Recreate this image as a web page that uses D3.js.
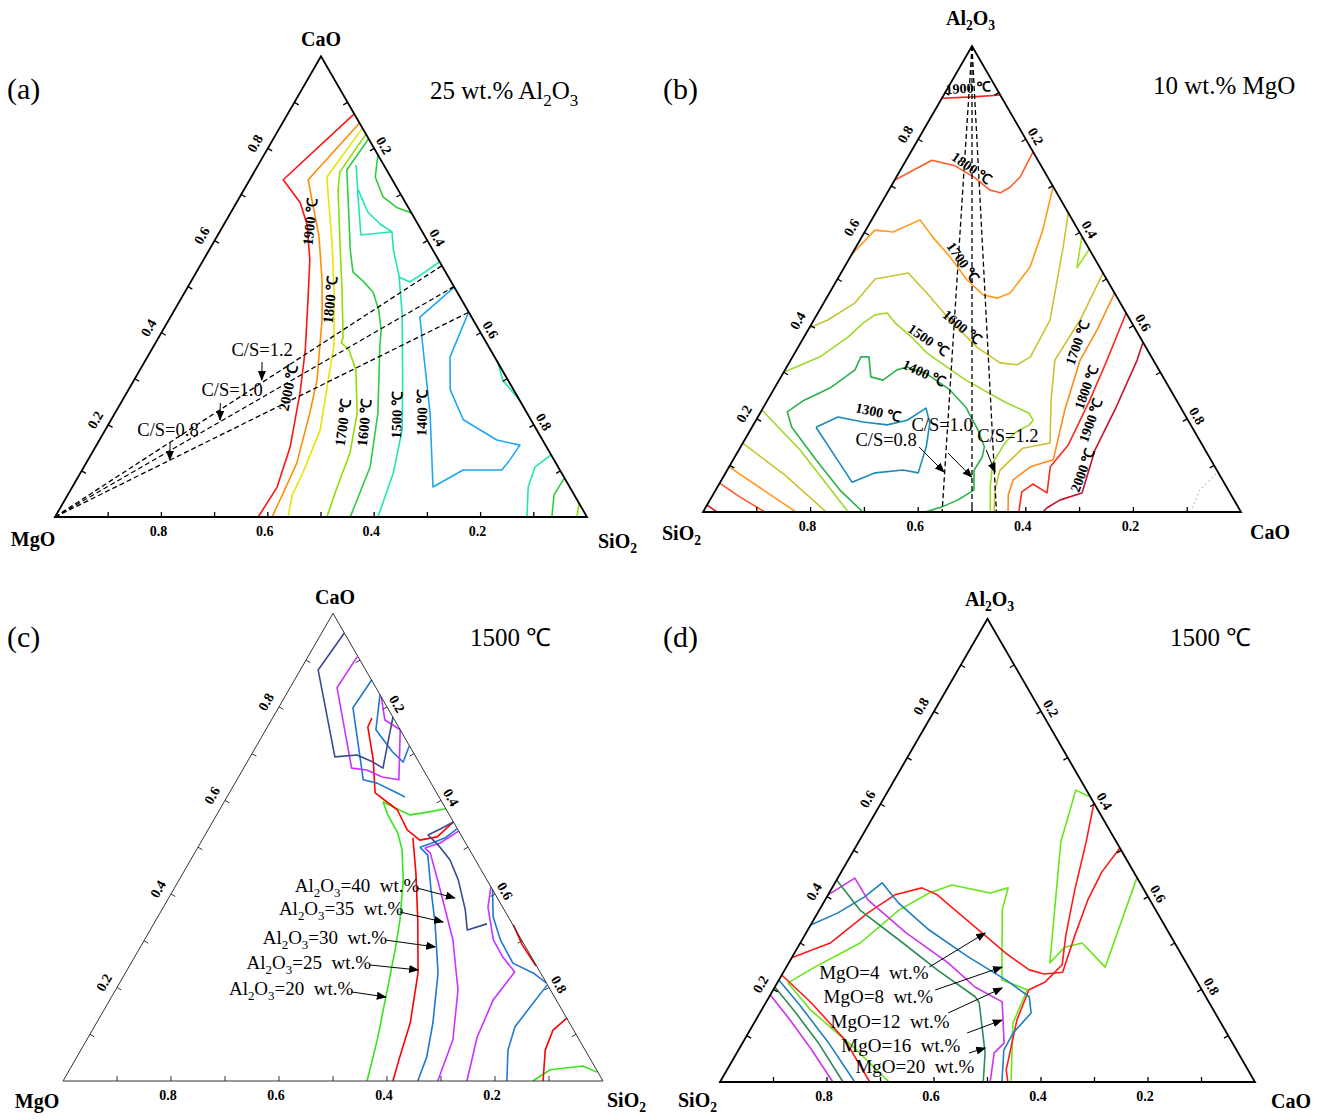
<!DOCTYPE html>
<html>
<head>
<meta charset="utf-8">
<script src="https://cdn.jsdelivr.net/npm/d3@7"></script>
<style>
	body { margin: 0; background: #fff; }
	svg text { font-family: "Times New Roman", "Liberation Serif", serif; fill: #000; }
</style>
</head>
<body>
<svg id="fig" width="1324" height="1119"></svg>
<script>
// every point is [top component, right component] as mass fraction

// (a) 25 wt.% Al2O3, points are [CaO, SiO2]
var a_2000 = [[0.875,0.125],[0.732,0.063],[0.682,0.120],[0.634,0.157],[0.558,0.200],[0.471,0.240],[0.363,0.289],[0.269,0.326],[0.152,0.366],[0.065,0.385],[0,0.382]];
var a_1900 = [[0.855,0.145],[0.732,0.110],[0.688,0.139],[0.612,0.190],[0.514,0.245],[0.428,0.288],[0.297,0.344],[0.226,0.366],[0.117,0.396],[0.052,0.403],[0,0.408]];
var a_1800 = [[0.844,0.156],[0.738,0.142],[0.699,0.164],[0.601,0.220],[0.493,0.278],[0.373,0.338],[0.297,0.365],[0.189,0.404],[0.096,0.418],[0.048,0.422],[0,0.438]];
var a_1700 = [[0.831,0.169],[0.749,0.161],[0.710,0.177],[0.601,0.235],[0.493,0.293],[0.389,0.347],[0.378,0.349],[0.363,0.371],[0.319,0.406],[0.226,0.455],[0.139,0.485],[0.065,0.498],[0,0.511]];
var a_1600 = [[0.821,0.179],[0.753,0.172],[0.688,0.207],[0.580,0.265],[0.532,0.294],[0.512,0.323],[0.488,0.354],[0.449,0.384],[0.406,0.410],[0.369,0.426],[0.226,0.494],[0.109,0.538],[0,0.555]];
var a_1600b = [[0.786,0.214],[0.738,0.233],[0.695,0.269],[0.671,0.308],[0.660,0.340]];
var a_1500 = [[0.764,0.184],[0.688,0.226],[0.612,0.269],[0.619,0.324],[0.580,0.346],[0.525,0.384],[0.443,0.431],[0.297,0.505],[0.189,0.558],[0.096,0.588],[0,0.607]];
var a_1500b = [[0.710,0.215],[0.662,0.257],[0.636,0.293],[0.619,0.324]];
var a_1500c = [[0.521,0.386],[0.510,0.412],[0.532,0.430],[0.554,0.446]];
var a_1500d = [[0.334,0.666],[0.297,0.693],[0.254,0.746]];
var a_1400 = [[0.499,0.501],[0.434,0.469],[0.369,0.507],[0.226,0.592],[0.065,0.678],[0.102,0.716],[0.102,0.789],[0.124,0.793],[0.156,0.796],[0.167,0.747],[0.211,0.662],[0.276,0.605],[0.347,0.569],[0.445,0.555]];
var a_1300 = [[0,0.887],[0.065,0.857],[0.109,0.848],[0.135,0.865]];
var a_1200 = [[0,0.934],[0.048,0.914],[0.085,0.915]];
var a_1100 = [[0,0.981],[0.030,0.970]];

// (b) 10 wt.% MgO, points are [Al2O3, CaO]
var b_1900 = [[0.888,0],[0.891,0.057],[0.895,0.105]];
var b_1800 = [[0.712,0],[0.755,0.048],[0.743,0.097],[0.717,0.147],[0.691,0.188],[0.685,0.210],[0.697,0.222],[0.719,0.230],[0.773,0.227]];
var b_1700 = [[0.552,0],[0.605,0.017],[0.601,0.053],[0.627,0.090],[0.590,0.132],[0.547,0.186],[0.498,0.242],[0.466,0.288],[0.459,0.317],[0.470,0.336],[0.526,0.345],[0.605,0.329],[0.697,0.302]];
var b_1600 = [[0.395,0],[0.412,0.026],[0.449,0.058],[0.500,0.070],[0.513,0.125],[0.470,0.181],[0.412,0.253],[0.354,0.332],[0.320,0.392],[0.316,0.426],[0.333,0.442],[0.412,0.439],[0.569,0.385],[0.642,0.358]];
var b_1500 = [[0.300,0],[0.333,0.051],[0.376,0.082],[0.406,0.095],[0.423,0.108],[0.427,0.129],[0.406,0.154],[0.376,0.199],[0.341,0.246],[0.283,0.347],[0.236,0.443],[0.212,0.500],[0.197,0.515],[0.187,0.513],[0.170,0.495],[0.148,0.487],[0.105,0.486],[0.054,0.507],[0,0.534]];
var b_1400 = [[0,0.297],[0.047,0.231],[0.112,0.154],[0.182,0.074],[0.215,0.049],[0.240,0.068],[0.266,0.103],[0.305,0.130],[0.333,0.127],[0.333,0.142],[0.290,0.167],[0.283,0.193],[0.305,0.208],[0.311,0.224],[0.298,0.265],[0.262,0.328],[0.225,0.376],[0.176,0.423],[0.140,0.453],[0.118,0.460],[0.090,0.459],[0.047,0.480],[0.026,0.461],[0.011,0.439],[0,0.413]];
var b_1300 = [[0.182,0.119],[0.204,0.149],[0.193,0.201],[0.187,0.249],[0.197,0.281],[0.223,0.303],[0.191,0.326],[0.140,0.345],[0.084,0.358],[0.090,0.327],[0.084,0.278],[0.064,0.245],[0.182,0.119]];
var b_s1900 = [[0.015,0],[0,0.026]];
var b_s1800 = [[0.062,0],[0.032,0.053],[0,0.115]];
var b_s1700 = [[0.097,0],[0.052,0.080],[0,0.173]];
var b_s1600 = [[0.148,0],[0.079,0.113],[0,0.229]];
var b_s1500 = [[0.219,0],[0.133,0.114],[0,0.270]];
var b_c1700 = [[0.513,0.487],[0.412,0.495],[0.326,0.491],[0.240,0.527],[0.148,0.571],[0.137,0.526],[0.090,0.507],[0.047,0.519],[0,0.541]];
var b_c1800 = [[0.470,0.530],[0.391,0.537],[0.326,0.538],[0.219,0.563],[0.112,0.595],[0.097,0.560],[0.069,0.542],[0.037,0.549],[0,0.567]];
var b_c1900 = [[0.427,0.573],[0.326,0.588],[0.240,0.599],[0.144,0.607],[0.097,0.597],[0.041,0.619],[0.060,0.583],[0.043,0.571],[0,0.587]];
var b_c2000 = [[0.363,0.636],[0.326,0.644],[0.219,0.656],[0.133,0.662],[0.041,0.684],[0.026,0.651],[0.009,0.635],[0,0.632]];
var b_c1500 = [[0.590,0.409],[0.524,0.433],[0.562,0.436]];
var b_dots = [[0.009,0.905],[0.047,0.900],[0.086,0.914]];

// (c) 1500 C, points are [CaO, SiO2]
var c_20 = [[0.597,0.294],[0.569,0.317],[0.530,0.355],[0.494,0.381],[0.430,0.415],[0.344,0.452],[0.280,0.475],[0.195,0.503],[0.088,0.538],[0,0.563]];
var c_20b = [[0.597,0.294],[0.584,0.323],[0.569,0.358],[0.575,0.388],[0.582,0.418]];
var c_20c = [[0,0.870],[0.024,0.890],[0.032,0.947],[0.019,0.979]];
var c_25 = [[0.520,0.388],[0.445,0.431],[0.344,0.485],[0.231,0.542],[0.124,0.581],[0.051,0.598],[0,0.611]];
var c_25b = [[0.776,0.184],[0.757,0.186],[0.687,0.231],[0.616,0.270],[0.580,0.329],[0.537,0.369],[0.515,0.403],[0.522,0.432],[0.554,0.446]];
var c_25c = [[0.334,0.667],[0.291,0.705],[0.246,0.753]];
var c_25d = [[0.135,0.866],[0.109,0.853],[0.066,0.860],[0,0.889]];
var c_30 = [[0.500,0.411],[0.483,0.434],[0.409,0.477],[0.338,0.520],[0.231,0.579],[0.124,0.623],[0.051,0.648],[0,0.657]];
var c_30b = [[0.500,0.411],[0.509,0.429],[0.520,0.448],[0.539,0.460]];
var c_30c = [[0.858,0.143],[0.798,0.138],[0.644,0.234],[0.637,0.263],[0.616,0.311],[0.607,0.330]];
var c_30d = [[0.826,0.174],[0.751,0.204],[0.704,0.258],[0.682,0.289],[0.716,0.283]];
var c_30e = [[0.409,0.591],[0.351,0.621],[0.302,0.659],[0.252,0.707],[0.231,0.755],[0.210,0.790]];
var c_30f = [[0.205,0.794],[0.158,0.786],[0.116,0.779],[0.066,0.791],[0,0.822]];
var c_35 = [[0.498,0.421],[0.488,0.436],[0.409,0.494],[0.302,0.571],[0.195,0.634],[0.088,0.678],[0,0.694]];
var c_35b = [[0.498,0.421],[0.509,0.444],[0.535,0.466]];
var c_35c = [[0.907,0.091],[0.841,0.087],[0.669,0.200],[0.665,0.230],[0.650,0.266],[0.644,0.300],[0.751,0.249]];
var c_35d = [[0.821,0.179],[0.772,0.210],[0.751,0.249]];
var c_35e = [[0.415,0.585],[0.372,0.601],[0.302,0.646],[0.265,0.682],[0.233,0.720],[0.173,0.710],[0.094,0.720],[0,0.748]];
var c_40 = [[0.958,0.042],[0.879,0.033],[0.693,0.157],[0.697,0.196],[0.682,0.233],[0.669,0.258],[0.714,0.243],[0.778,0.222]];
var c_40b = [[0.554,0.446],[0.539,0.429],[0.526,0.413],[0.505,0.442],[0.473,0.480],[0.430,0.517],[0.366,0.562],[0.323,0.587],[0.336,0.617]];

// (d) 1500 C, points are [Al2O3, CaO]
var d_4 = [[0,0.316],[0.076,0.211],[0.155,0.092],[0.214,0.020],[0.248,0.053],[0.300,0.112],[0.371,0.149],[0.408,0.187],[0.425,0.221],[0.408,0.301],[0.419,0.329],[0.371,0.342],[0.220,0.417],[0.199,0.475],[0.127,0.484],[0,0.544]];
var d_4b = [[0.615,0.385],[0.630,0.350],[0.518,0.378],[0.257,0.488],[0.291,0.499],[0.300,0.527],[0.248,0.596],[0.440,0.559]];
var d_8 = [[0.268,0],[0.300,0.056],[0.365,0.094],[0.404,0.125],[0.419,0.168],[0.404,0.204],[0.335,0.309],[0.278,0.395],[0.242,0.457],[0.233,0.489],[0.237,0.522],[0.317,0.505],[0.393,0.491],[0.453,0.487],[0.505,0.495]];
var d_8b = [[0.602,0.398],[0.516,0.426],[0.414,0.456],[0.317,0.488],[0.253,0.513],[0.216,0.500],[0.199,0.478],[0.134,0.488],[0.026,0.522],[0,0.538]];
var d_8c = [[0.231,0],[0.171,0.085],[0.091,0.188],[0,0.280]];
var d_12 = [[0.339,0],[0.365,0.038],[0.399,0.070],[0.430,0.088],[0.386,0.141],[0.328,0.227],[0.270,0.329],[0.220,0.425],[0.184,0.486],[0.149,0.507],[0.106,0.495],[0.069,0.496],[0,0.527]];
var d_12b = [[0.220,0],[0.166,0.066],[0.086,0.159],[0,0.252]];
var d_16 = [[0.404,0],[0.440,0.032],[0.393,0.080],[0.322,0.187],[0.257,0.298],[0.205,0.374],[0.173,0.441],[0.084,0.489],[0.063,0.481],[0,0.505]];
var d_16b = [[0.188,0],[0.134,0.064],[0.069,0.137],[0,0.211]];
var d_20 = [[0.436,0],[0.371,0.076],[0.300,0.192],[0.242,0.285],[0.184,0.385],[0.171,0.399],[0.063,0.464],[0,0.492]];
var d_20b = [[0.205,0],[0.151,0.065],[0.086,0.140],[0,0.230]];

var tickValues = [0.1, 0.2, 0.3, 0.4, 0.5, 0.6, 0.7, 0.8, 0.9];
var tickLabels = [0.2, 0.4, 0.6, 0.8];
var csRatios = [0.8, 1.0, 1.2];

var svg = d3.select("#fig");
svg.append("defs").append("marker")
	.attr("id", "arrow")
	.attr("viewBox", "0 0 10 10")
	.attr("refX", 9).attr("refY", 5)
	.attr("markerWidth", 10).attr("markerHeight", 10)
	.attr("markerUnits", "userSpaceOnUse")
	.attr("orient", "auto")
	.append("path").attr("d", "M0,1L10,5L0,9Z").attr("fill", "#000");

// write text, digits right after a letter become subscripts
function rich(sel, str, size) {
	var parts = str.split(/(?<=[A-Za-z])(\d+)/);
	parts.forEach(function(s, i) {
		if (s === "") return;
		var t = sel.append("tspan").text(s);
		if (i % 2 == 1) {
			t.attr("font-size", size * 0.68).attr("dy", size * 0.26);
		} else if (i > 0) {
			t.attr("dy", -size * 0.26);
		}
	});
}

function plainText(x, y, str, size, opt) {
	opt = opt || {};
	var t = svg.append("text")
		.attr("x", x).attr("y", y)
		.attr("font-size", size)
		.attr("font-weight", opt.bold ? "bold" : "normal")
		.attr("text-anchor", opt.anchor || "start");
	rich(t, str, size);
}

function ternary(cfg) {
	var h = cfg.w * Math.sqrt(3) / 2;
	var x = d3.scaleLinear().domain([0, 1]).range([cfg.x0, cfg.x0 + cfg.w]);
	var y = d3.scaleLinear().domain([0, 1]).range([cfg.y0, cfg.y0 - h]);
	var p = {};
	p.proj = function(d) { return [x(d[1] + d[0] / 2), y(d[0])]; };
	p.line = d3.line()
		.x(function(d) { return p.proj(d)[0]; })
		.y(function(d) { return p.proj(d)[1]; });
	p.g = svg.append("g");
	p.lines = p.g.append("g");
	p.top = p.g.append("g");

	p.curve = function(pts, color, dash) {
		p.lines.append("path").datum(pts)
			.attr("d", p.line)
			.attr("fill", "none")
			.attr("stroke", color)
			.attr("stroke-width", dash ? 1.3 : 1.6)
			.attr("stroke-dasharray", dash || null)
			.attr("stroke-linejoin", "round");
	};
	p.label = function(at, str, size, rot, bold) {
		var xy = p.proj(at);
		var t = p.top.append("text")
			.attr("transform", "translate(" + xy[0] + "," + xy[1] + ") rotate(" + (rot || 0) + ")")
			.attr("text-anchor", "middle")
			.attr("dy", "0.35em")
			.attr("font-size", size)
			.attr("font-weight", bold ? "bold" : "normal");
		rich(t, str, size);
	};
	p.arrow = function(from, to) {
		var a = p.proj(from), b = p.proj(to);
		p.top.append("line")
			.attr("x1", a[0]).attr("y1", a[1]).attr("x2", b[0]).attr("y2", b[1])
			.attr("stroke", "#000").attr("stroke-width", 1)
			.attr("marker-end", "url(#arrow)");
	};

	p.frame = function() {
		var axisColor = cfg.thin ? "#333" : "#000";
		p.top.append("path")
			.attr("d", p.line([[0, 0], [1, 0], [0, 1]]) + "Z")
			.attr("fill", "none")
			.attr("stroke", axisColor)
			.attr("stroke-width", cfg.thin ? 1 : 1.8);
		var ticks = [];
		tickValues.forEach(function(v) {
			ticks.push({ pt: p.proj([0, 1 - v]), n: [0, -1] });
			ticks.push({ pt: p.proj([v, 0]), n: [0.866, 0.5] });
			ticks.push({ pt: p.proj([1 - v, v]), n: [-0.866, 0.5] });
		});
		p.top.selectAll("line.tick").data(ticks).enter().append("line")
			.attr("class", "tick")
			.attr("x1", function(d) { return d.pt[0]; })
			.attr("y1", function(d) { return d.pt[1]; })
			.attr("x2", function(d) { return d.pt[0] + 5 * d.n[0]; })
			.attr("y2", function(d) { return d.pt[1] + 5 * d.n[1]; })
			.attr("stroke", axisColor)
			.attr("stroke-width", cfg.thin ? 1 : 1.3);
		var fmt = d3.format(".1f");
		tickLabels.forEach(function(v) {
			var b = p.proj([0, 1 - v]), l = p.proj([v, 0]), r = p.proj([1 - v, v]);
			p.top.append("text").attr("x", b[0] - 3).attr("y", b[1] + 19)
				.attr("text-anchor", "middle").attr("font-size", 14).attr("font-weight", "bold")
				.text(fmt(v));
			p.top.append("text")
				.attr("transform", "translate(" + (l[0] - 13) + "," + (l[1] - 5) + ") rotate(-60)")
				.attr("text-anchor", "middle").attr("dy", "0.35em")
				.attr("font-size", 14).attr("font-weight", "bold").text(fmt(v));
			p.top.append("text")
				.attr("transform", "translate(" + (r[0] + 10) + "," + (r[1] - 3) + ") rotate(60)")
				.attr("text-anchor", "middle").attr("dy", "0.35em")
				.attr("font-size", 14).attr("font-weight", "bold").text(fmt(v));
		});
	};
	return p;
}

var GAP = "\u00a0 ";

// ---------------- panel (a) ----------------
var pa = ternary({ x0: 55, y0: 517, w: 532 });
[[a_2000, "#ff1414"], [a_1900, "#ff8c00"], [a_1800, "#e6e600"], [a_1700, "#8ee000"],
 [a_1600, "#2ecc40"], [a_1600b, "#2ecc40"], [a_1500, "#1ee6b4"], [a_1500b, "#1ee6b4"],
 [a_1500c, "#1ee6b4"], [a_1500d, "#1ee6b4"], [a_1400, "#1ea8f0"],
 [a_1300, "#1ee6b4"], [a_1200, "#2ecc40"], [a_1100, "#8ee000"]].forEach(function(c) {
	pa.curve(c[0], c[1]);
});
csRatios.forEach(function(k) {
	pa.curve([[0, 0], [k / (1 + k), 1 / (1 + k)]], "#000", "5,3");
});
pa.frame();
pa.label([0.640, 0.159], "1900 ℃", 14.5, -84, true);
pa.label([0.471, 0.281], "1800 ℃", 14.5, -84, true);
pa.label([0.280, 0.298], "2000 ℃", 14.5, -78, true);
pa.label([0.204, 0.439], "1700 ℃", 14.5, -82, true);
pa.label([0.204, 0.479], "1600 ℃", 14.5, -84, true);
pa.label([0.221, 0.532], "1500 ℃", 14.5, -88, true);
pa.label([0.226, 0.577], "1400 ℃", 14.5, -88, true);
pa.label([0.3625, 0.208], "C/S=1.2", 18.5, 0, false);
pa.label([0.2757, 0.195], "C/S=1.0", 18.5, 0, false);
pa.label([0.1888, 0.118], "C/S=0.8", 18.5, 0, false);
pa.arrow([0.3364, 0.221], [0.2974, 0.240]);
pa.arrow([0.2474, 0.187], [0.2105, 0.205]);
pa.arrow([0.1606, 0.136], [0.1237, 0.154]);

// ---------------- panel (b) ----------------
var pb = ternary({ x0: 703, y0: 512, w: 538 });
[[b_1900, "#ff2020"], [b_1800, "#ff5a28"], [b_1700, "#ff9a1a"], [b_1600, "#c8c432"],
 [b_1500, "#a0d82a"], [b_1400, "#2eb04a"], [b_1300, "#1a8cb8"],
 [b_s1900, "#e0201a"], [b_s1800, "#ff5a28"], [b_s1700, "#ff9a1a"], [b_s1600, "#c8c432"], [b_s1500, "#a0d82a"],
 [b_c1700, "#cdbf2e"], [b_c1800, "#ff8c1a"], [b_c1900, "#ff2a1a"], [b_c2000, "#c8102e"],
 [b_c1500, "#a0e020"]].forEach(function(c) {
	pb.curve(c[0], c[1]);
});
pb.curve(b_dots, "#bbb", "1.5,3");
csRatios.forEach(function(k) {
	pb.curve([[1, 0], [0, k / (1 + k)]], "#000", "5,3");
});
pb.frame();
pb.label([0.910, 0.038], "1900 ℃", 14, -3, true);
pb.label([0.738, 0.131], "1800 ℃", 14, 35, true);
pb.label([0.5365, 0.215], "1700 ℃", 14, 55, true);
pb.label([0.397, 0.283], "1600 ℃", 14, 40, true);
pb.label([0.369, 0.234], "1500 ℃", 14, 35, true);
pb.label([0.2983, 0.262], "1400 ℃", 14, 25, true);
pb.label([0.2146, 0.218], "1300 ℃", 14, 12, true);
pb.label([0.3627, 0.514], "1700 ℃", 14, -70, true);
pb.label([0.268, 0.578], "1800 ℃", 14, -70, true);
pb.label([0.197, 0.622], "1900 ℃", 14, -70, true);
pb.label([0.090, 0.660], "2000 ℃", 14, -70, true);
pb.label([0.1545, 0.263], "C/S=0.8", 18.5, 0, false);
pb.label([0.1867, 0.351], "C/S=1.0", 18.5, 0, false);
pb.label([0.1652, 0.484], "C/S=1.2", 18.5, 0, false);
pb.arrow([0.1395, 0.332], [0.0858, 0.405]);
pb.arrow([0.1266, 0.392], [0.0751, 0.462]);
pb.arrow([0.133, 0.460], [0.0858, 0.500]);

// ---------------- panel (c) ----------------
var pc = ternary({ x0: 63, y0: 1081, w: 540, thin: true });
[[c_20, "#33e619"], [c_20b, "#33e619"], [c_20c, "#33e619"],
 [c_25, "#ff0000"], [c_25b, "#ff0000"], [c_25c, "#ff0000"], [c_25d, "#ff0000"],
 [c_30, "#1f78d1"], [c_30b, "#1f78d1"], [c_30c, "#1f78d1"], [c_30d, "#1f78d1"], [c_30e, "#1f78d1"], [c_30f, "#1f78d1"],
 [c_35, "#cc33ff"], [c_35b, "#cc33ff"], [c_35c, "#cc33ff"], [c_35d, "#cc33ff"], [c_35e, "#cc33ff"],
 [c_40, "#3a4a8c"], [c_40b, "#3a4a8c"]].forEach(function(c) {
	pc.curve(c[0], c[1]);
});
pc.frame();
pc.label([0.4192, 0.335], "Al2O3=40" + GAP + "wt.%", 19, 0, false);
pc.label([0.370, 0.330], "Al2O3=35" + GAP + "wt.%", 19, 0, false);
pc.label([0.308, 0.331], "Al2O3=30" + GAP + "wt.%", 19, 0, false);
pc.label([0.2545, 0.328], "Al2O3=25" + GAP + "wt.%", 19, 0, false);
pc.label([0.1989, 0.323], "Al2O3=20" + GAP + "wt.%", 19, 0, false);
pc.arrow([0.4127, 0.449], [0.3914, 0.530]);
pc.arrow([0.3614, 0.443], [0.340, 0.534]);
pc.arrow([0.3015, 0.446], [0.2866, 0.546]);
pc.arrow([0.2481, 0.444], [0.2374, 0.539]);
pc.arrow([0.1903, 0.440], [0.1796, 0.508]);

// ---------------- panel (d) ----------------
var pd = ternary({ x0: 720, y0: 1082, w: 535 });
[[d_4, "#66e61a"], [d_4b, "#66e61a"], [d_8, "#ff1a1a"], [d_8b, "#ff1a1a"], [d_8c, "#ff1a1a"],
 [d_12, "#1f7fc0"], [d_12b, "#1f7fc0"], [d_16, "#cc33ee"], [d_16b, "#cc33ee"],
 [d_20, "#2e8b57"], [d_20b, "#2e8b57"]].forEach(function(c) {
	pd.curve(c[0], c[1]);
});
pd.frame();
pd.label([0.2374, 0.169], "MgO=4" + GAP + "wt.%", 19, 0, false);
pd.label([0.1856, 0.203], "MgO=8" + GAP + "wt.%", 19, 0, false);
pd.label([0.1317, 0.252], "MgO=12" + GAP + "wt.%", 19, 0, false);
pd.label([0.0799, 0.298], "MgO=16" + GAP + "wt.%", 19, 0, false);
pd.label([0.0345, 0.347], "MgO=20" + GAP + "wt.%", 19, 0, false);
pd.arrow([0.2482, 0.267], [0.3216, 0.335]);
pd.arrow([0.1986, 0.303], [0.2482, 0.403]);
pd.arrow([0.1489, 0.352], [0.2029, 0.426]);
pd.arrow([0.1058, 0.409], [0.1338, 0.460]);
pd.arrow([0.0626, 0.434], [0.0734, 0.459]);

// ---------------- headings ----------------
plainText(7, 99, "(a)", 30);
plainText(430, 99, "25 wt.% Al2O3", 25);
plainText(321, 46, "CaO", 20, { bold: true, anchor: "middle" });
plainText(33, 546, "MgO", 20, { bold: true, anchor: "middle" });
plainText(598, 548, "SiO2", 20, { bold: true });

plainText(663, 99, "(b)", 30);
plainText(1153, 94, "10 wt.% MgO", 25);
plainText(946, 25, "Al2O3", 20, { bold: true });
plainText(662, 540, "SiO2", 20, { bold: true });
plainText(1270, 539, "CaO", 20, { bold: true, anchor: "middle" });

plainText(7, 647, "(c)", 30);
plainText(470, 646, "1500 ℃", 25);
plainText(335, 604, "CaO", 20, { bold: true, anchor: "middle" });
plainText(37, 1108, "MgO", 20, { bold: true, anchor: "middle" });
plainText(607, 1107, "SiO2", 20, { bold: true });

plainText(663, 647, "(d)", 30);
plainText(1170, 646, "1500 ℃", 25);
plainText(965, 606, "Al2O3", 20, { bold: true });
plainText(678, 1107, "SiO2", 20, { bold: true });
plainText(1291, 1108, "CaO", 20, { bold: true, anchor: "middle" });
</script>
</body>
</html>
